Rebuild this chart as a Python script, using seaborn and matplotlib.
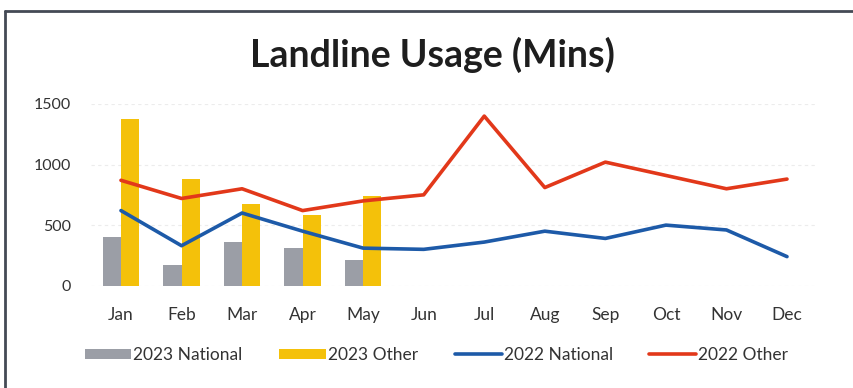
import numpy as np
import pandas as pd
import matplotlib
matplotlib.use("Agg")
import matplotlib.pyplot as plt
from matplotlib.patches import Patch
from matplotlib.lines import Line2D
import seaborn as sns

months = ["Jan", "Feb", "Mar", "Apr", "May", "Jun",
          "Jul", "Aug", "Sep", "Oct", "Nov", "Dec"]
months_2023 = ["Jan", "Feb", "Mar", "Apr", "May"]
national_2023 = [400, 170, 360, 310, 210]
other_2023 = [1380, 880, 675, 580, 740]
national_2022 = [620, 330, 600, 450, 310, 300, 360, 450, 390, 500, 460, 240]
other_2022 = [870, 720, 800, 620, 700, 750, 1400, 810, 1020, 910, 800, 880]
y_ticks = [0, 500, 1000, 1500]

series_names = ["2023 National", "2023 Other", "2022 National", "2022 Other"]
colors = {"2023 National": "#9b9ea6", "2023 Other": "#f4c10a",
          "2022 National": "#1d5aa8", "2022 Other": "#e2381a"}

bars = pd.DataFrame({
    "month": months_2023 * 2,
    "series": ["2023 National"] * 5 + ["2023 Other"] * 5,
    "value": national_2023 + other_2023,
})
lines = pd.DataFrame({
    "month": months * 2,
    "series": ["2022 National"] * 12 + ["2022 Other"] * 12,
    "value": national_2022 + other_2022,
})

sns.set_theme(style="white")
plt.rcParams["font.family"] = ["Lato", "DejaVu Sans"]

fig = plt.figure(figsize=(8.54, 3.88), dpi=100)
ax = fig.add_axes([0.1062, 0.2637, 0.8508, 0.4683])

sns.barplot(data=bars, x="month", y="value", hue="series", order=months,
            hue_order=["2023 National", "2023 Other"],
            palette=[colors["2023 National"], colors["2023 Other"]],
            width=0.6, gap=0, saturation=1, linewidth=0, ax=ax, legend=False)

sns.lineplot(data=lines, x="month", y="value", hue="series",
             hue_order=["2022 National", "2022 Other"],
             palette=[colors["2022 National"], colors["2022 Other"]],
             linewidth=2.6, ax=ax, legend=False, sort=False)

ax.set_xlim(-0.5, 11.5)
ax.set_ylim(0, 1500)
ax.set_yticks(y_ticks)
ax.set_yticklabels([str(v) for v in y_ticks])
ax.set_xlabel("")
ax.set_ylabel("")
for s in ax.spines.values():
    s.set_visible(False)
ax.yaxis.grid(True, color="#ececec", linestyle=(0, (3, 3)), linewidth=0.8)
ax.set_axisbelow(True)
ax.tick_params(axis="both", length=0, colors="#333333")
ax.tick_params(axis="y", pad=14, labelsize=11.5)
ax.tick_params(axis="x", pad=15, labelsize=12.5)

fig.text(0.506, 0.858, "Landline Usage (Mins)", ha="center", va="center",
         fontsize=27, fontweight="bold", color="#1e1e1e")

handles = [
    Patch(facecolor=colors["2023 National"], edgecolor="none"),
    Patch(facecolor=colors["2023 Other"], edgecolor="none"),
    Line2D([], [], color=colors["2022 National"], linewidth=2.6),
    Line2D([], [], color=colors["2022 Other"], linewidth=2.6),
]
fig.legend(handles, series_names, loc="center", bbox_to_anchor=(0.511, 0.085),
           ncol=4, frameon=False, fontsize=12.5, handlelength=2.7,
           handleheight=0.5, handletextpad=0.12, columnspacing=2.1,
           labelcolor="#333333")

# outer frame: top and left edges
fig.add_artist(Line2D([0.006, 1.0], [0.972, 0.972], color="#444a55",
                      linewidth=2, transform=fig.transFigure))
fig.add_artist(Line2D([0.006, 0.006], [0.0, 0.972], color="#444a55",
                      linewidth=2, transform=fig.transFigure))

fig.savefig("out.png", dpi=100, facecolor="white")
